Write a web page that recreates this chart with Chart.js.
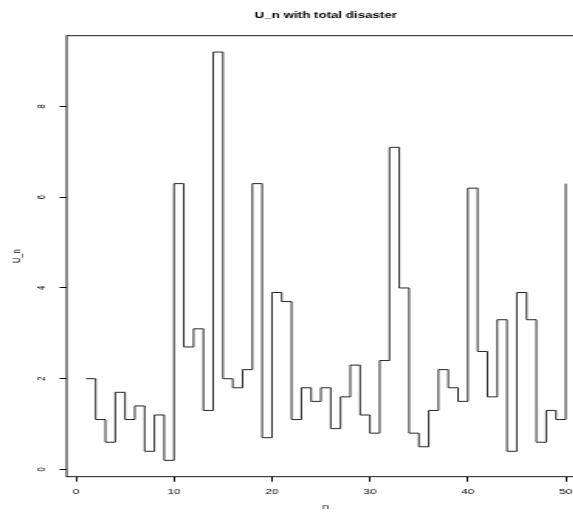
<!DOCTYPE html>
<html lang="en">
<head>
    <meta charset="UTF-8">
    <title>U_n with total disaster</title>
    <script src="https://cdn.jsdelivr.net/npm/chart.js"></script>
    <style>
        body { margin: 0; background: #fff; }
        /* the reference is stretched sideways, so the canvas is too */
        .wrap { width: 573px; height: 514px; overflow: hidden; position: relative; }
        #chart { position: absolute; left: 0; top: 0; transform: scaleX(1.55); transform-origin: 0 0; }
    </style>
</head>
<body>
    <div class="wrap">
        <canvas id="chart" width="387" height="514"></canvas>
    </div>

    <script>
        // n = 1..50
        const nValues = [
            1, 2, 3, 4, 5, 6, 7, 8, 9, 10,
            11, 12, 13, 14, 15, 16, 17, 18, 19, 20,
            21, 22, 23, 24, 25, 26, 27, 28, 29, 30,
            31, 32, 33, 34, 35, 36, 37, 38, 39, 40,
            41, 42, 43, 44, 45, 46, 47, 48, 49, 50
        ];
        // U_n
        const uValues = [
            2.0, 1.1, 0.6, 1.7, 1.1, 1.4, 0.4, 1.2, 0.2, 6.3,
            2.7, 3.1, 1.3, 9.2, 2.0, 1.8, 2.2, 6.3, 0.7, 3.9,
            3.7, 1.1, 1.8, 1.5, 1.8, 0.9, 1.6, 2.3, 1.2, 0.8,
            2.4, 7.1, 4.0, 0.8, 0.5, 1.3, 2.2, 1.8, 1.5, 6.2,
            2.6, 1.6, 3.3, 0.4, 3.9, 3.3, 0.6, 1.3, 1.1, 6.3
        ];
        const xTicks = [0, 10, 20, 30, 40, 50];
        const yTicks = [0, 2, 4, 6, 8];

        const font = "'Liberation Sans', Arial, sans-serif";

        // box round the plot region, like R's box()
        const frame = {
            id: 'frame',
            afterDraw(chart) {
                const { ctx, chartArea: a } = chart;
                ctx.save();
                ctx.strokeStyle = '#000';
                ctx.lineWidth = 0.9;
                ctx.strokeRect(a.left, a.top, a.right - a.left, a.bottom - a.top);
                ctx.restore();
            }
        };

        new Chart(document.getElementById('chart'), {
            type: 'line',
            data: {
                datasets: [{
                    data: nValues.map((n, i) => ({ x: n, y: uValues[i] })),
                    stepped: 'before',
                    borderColor: '#000',
                    borderWidth: 0.85,
                    pointRadius: 0,
                    fill: false
                }]
            },
            options: {
                responsive: false,
                animation: false,
                devicePixelRatio: 1,
                layout: { padding: { left: 0, right: 9.6, top: 0, bottom: 0 } },
                plugins: {
                    legend: { display: false },
                    tooltip: { enabled: false },
                    title: {
                        display: true,
                        text: 'U_n with total disaster',
                        fullSize: false,
                        color: '#000',
                        font: { family: font, size: 8.6, weight: 'bold' },
                        padding: { top: 10.3, bottom: 15.1 }
                    }
                },
                scales: {
                    x: {
                        type: 'linear',
                        min: -0.96,
                        max: 51.96,
                        afterBuildTicks: s => { s.ticks = xTicks.map(v => ({ value: v })); },
                        afterFit: s => { s.height = 37.3; },
                        ticks: {
                            color: '#000',
                            font: { family: font, size: 7.5 },
                            padding: 5.5,
                            maxRotation: 0
                        },
                        grid: { drawOnChartArea: false, tickLength: 5, tickColor: '#000' },
                        border: { display: false },
                        title: {
                            display: true,
                            text: 'n',
                            color: '#000',
                            font: { family: font, size: 7.5 },
                            padding: { top: 0, bottom: 2.5 }
                        }
                    },
                    y: {
                        min: -0.16,
                        max: 9.56,
                        afterBuildTicks: s => { s.ticks = yTicks.map(v => ({ value: v })); },
                        afterFit: s => { s.width = 43.0; },
                        ticks: {
                            color: '#000',
                            font: { family: font, size: 7.5 },
                            minRotation: 90,
                            maxRotation: 90,
                            crossAlign: 'center',
                            padding: 9
                        },
                        grid: { drawOnChartArea: false, tickLength: 4.5, tickColor: '#000' },
                        border: { display: false },
                        title: {
                            display: true,
                            text: 'U_n',
                            color: '#000',
                            font: { family: font, size: 7.5 },
                            padding: { top: 6.3, bottom: 0 }
                        }
                    }
                }
            },
            plugins: [frame]
        });
    </script>
</body>
</html>
